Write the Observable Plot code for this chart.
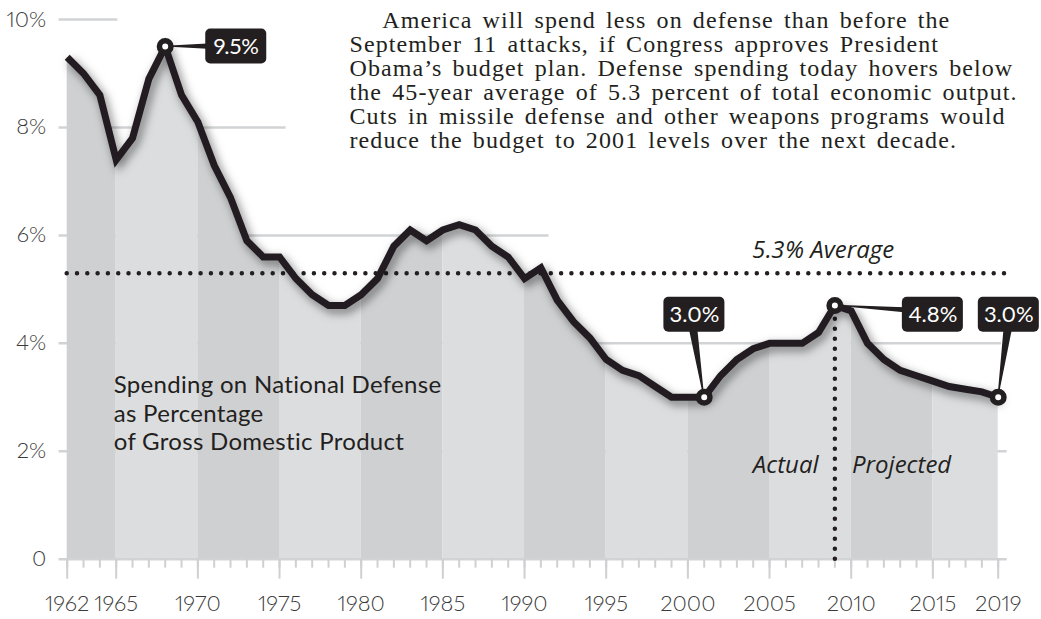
<!DOCTYPE html>
<html><head><meta charset="utf-8">
<script src="https://cdn.jsdelivr.net/npm/d3@7"></script>
<script src="https://cdn.jsdelivr.net/npm/@observablehq/plot@0.6"></script>
<style>
body{margin:0;background:#fff;}
#chart{width:1041px;height:619px;overflow:hidden;}
svg{overflow:visible;}
svg text{font-variant-numeric: proportional-nums;}
</style></head><body><div id="chart"></div>
<script>
// ---- data ----
const years = [1962,1963,1964,1965,1966,1967,1968,1969,1970,1971,1972,1973,1974,1975,1976,1977,1978,1979,
  1980,1981,1982,1983,1984,1985,1986,1987,1988,1989,1990,1991,1992,1993,1994,1995,1996,1997,1998,1999,
  2000,2001,2002,2003,2004,2005,2006,2007,2008,2009,2010,2011,2012,2013,2014,2015,2016,2017,2018,2019];
const values = [9.3,9.0,8.6,7.4,7.8,8.9,9.5,8.6,8.1,7.3,6.7,5.9,5.6,5.6,5.2,4.9,4.7,4.7,
  4.9,5.2,5.8,6.1,5.9,6.1,6.2,6.1,5.8,5.6,5.2,5.4,4.8,4.4,4.1,3.7,3.5,3.4,3.2,3.0,
  3.0,3.0,3.4,3.7,3.9,4.0,4.0,4.0,4.2,4.7,4.6,4.0,3.7,3.5,3.4,3.3,3.2,3.15,3.1,3.0];
const average = 5.3;
const averageLabel = "5.3% Average";
const splitYear = 2009;

const bandStarts = [1962,1965,1970,1975,1980,1985,1990,1995,2000,2005,2010,2015];
const bandEnds   = [1965,1970,1975,1980,1985,1990,1995,2000,2005,2010,2015,2019];

const xTickValues = [1962,1965,1970,1975,1980,1985,1990,1995,2000,2005,2010,2015,2019];
const yTickValues = [0,2,4,6,8,10];
const yTickLabels = ["0","2%","4%","6%","8%","10%"];

const gridValues = [0,2,4,6,8,10];
const gridStart = 1961.5;
const gridEnds = [2019.55,2019.55,2019.2,1991.5,1975.4,1965.1];

const calloutYears  = [1968,2001,2009,2019];
const calloutValues = [9.5,3.0,4.7,3.0];
const calloutLabels = ["9.5%","3.0%","4.8%","3.0%"];
const calloutBoxX   = [1972.35,2000.4,2015.0,2019.65];
const calloutBoxY   = [9.5,4.53,4.53,4.53];
const calloutSide   = ["left","bottom","left","bottom"];

const titleLines = ["Spending on National Defense","as Percentage","of Gross Domestic Product"];
const titlePos = {x: 1964.85, y: 3.45};
const phaseLabels = ["Actual","Projected"];
const phasePos = [{x: 2008.0, y: 1.74}, {x: 2010.05, y: 1.74}];
const averageLabelPos = {x: 2008.3, y: 5.72};

const paragraph = [
  "America will spend less on defense than before the",
  "September 11 attacks, if Congress approves President",
  "Obama\u2019s budget plan. Defense spending today hovers below",
  "the 45-year average of 5.3 percent of total economic output.",
  "Cuts in missile defense and other weapons programs would",
  "reduce the budget to 2001 levels over the next decade."
];

// ---- derived tables ----
const series = years.map((year, i) => ({year, value: values[i]}));
const bands = bandStarts.map((s, i) => ({
  i, rows: series.filter(d => d.year >= s && d.year <= bandEnds[i])
}));
const grid = gridValues.map((v, i) => ({v, end: gridEnds[i]}));
const callouts = calloutYears.map((year, i) => ({
  year, value: calloutValues[i], label: calloutLabels[i],
  bx: calloutBoxX[i], by: calloutBoxY[i], side: calloutSide[i]
}));

const ink = "#231f20";
const bandColors = ["#cfd0d2", "#dcdddf"];
const pxX = 16.33, pxY = 53.97; // px per unit (for sizing boxes in data units)
const boxW = 61 / pxX, boxH = 35 / pxY;
const sansItalic = "'Open Sans', sans-serif";

// wedge-shaped connectors from each point to its label box
const wedges = callouts.flatMap((d, k) => {
  if (d.side === "left") {
    const bxL = d.bx - boxW / 2 + 0.1;
    const yb = d.by + (d.value - d.by) * 0.5;
    const hw = 2.2 / pxY;
    return [
      {id: k, x: d.year, y: d.value},
      {id: k, x: bxL, y: yb + hw},
      {id: k, x: bxL, y: yb - hw}
    ];
  } else {
    const xb = d.bx - 0.05;
    const yb = d.by - boxH / 2 + 0.05;
    const hw = 3.8 / pxX;
    return [
      {id: k, x: d.year, y: d.value},
      {id: k, x: xb - hw, y: yb},
      {id: k, x: xb + hw, y: yb}
    ];
  }
});

const chart = Plot.plot({
  width: 1041, height: 619,
  marginLeft: 66.7, marginRight: 43.3, marginTop: 19, marginBottom: 60.3,
  x: {domain: [1962, 2019]},
  y: {domain: [0, 10]},
  style: {fontFamily: "Lato, sans-serif", fontSize: "21px", color: "#333", background: "white", overflow: "visible"},
  marks: [
    Plot.ruleY(grid.filter(d => d.v !== 0), {y: "v", x1: gridStart, x2: "end", stroke: "#d2d3d5", strokeWidth: 2.5}),
    ...bands.map(b => Plot.areaY(b.rows, {x: "year", y: "value", fill: bandColors[b.i % 2]})),
    Plot.ruleY(grid.filter(d => d.v === 0), {y: "v", x1: gridStart, x2: "end", stroke: "#d2d3d5", strokeWidth: 2.5}),
    Plot.axisX({ticks: years, tickSize: 9, tickFormat: () => "", stroke: "#cfd0d2", strokeWidth: 2}),
    Plot.axisX({ticks: xTickValues, tickSize: 20, tickPadding: 16, tickFormat: d => String(d), stroke: "#cfd0d2", strokeWidth: 2, fill: "#3a3a3a", fontWeight: 300, fontSize: 22}),
    Plot.axisY({ticks: yTickValues, tickSize: 0, tickPadding: 21, tickFormat: d => yTickLabels[yTickValues.indexOf(d)], fill: "#3a3a3a", fontWeight: 300, fontSize: 22}),
    Plot.ruleX([splitYear], {x: d => d, y1: 0, y2: calloutValues[2], stroke: ink, strokeWidth: 4.5, strokeDasharray: "0 10", strokeLinecap: "round"}),
    Plot.ruleY([average], {y: d => d, x1: 1962, x2: 2019.9, stroke: ink, strokeWidth: 4.5, strokeDasharray: "0 10.3", strokeLinecap: "round"}),
    Plot.line(series, {x: "year", y: "value", stroke: ink, strokeWidth: 7, strokeLinejoin: "miter", strokeMiterlimit: 3, strokeLinecap: "butt"}),
    Plot.line(wedges, {x: "x", y: "y", z: "id", fill: ink, stroke: ink, strokeWidth: 1.5, strokeLinejoin: "round"}),
    Plot.dot(callouts, {x: "year", y: "value", r: 5.75, fill: "white", stroke: ink, strokeWidth: 5.5}),
    Plot.rect(callouts, {x1: d => d.bx - boxW / 2, x2: d => d.bx + boxW / 2, y1: d => d.by - boxH / 2, y2: d => d.by + boxH / 2, rx: 5, fill: ink}),
    Plot.text(callouts, {x: "bx", y: "by", text: "label", fill: "white", fontSize: 22, fontFamily: "Lato, sans-serif"}),
    Plot.text([averageLabel], {x: averageLabelPos.x, y: averageLabelPos.y, text: d => d, fill: ink, fontSize: 24, fontStyle: "italic", fontFamily: sansItalic}),
    Plot.text([phaseLabels[0]], {x: phasePos[0].x, y: phasePos[0].y, text: d => d, textAnchor: "end", fill: ink, fontSize: 24, fontStyle: "italic", fontFamily: sansItalic}),
    Plot.text([phaseLabels[1]], {x: phasePos[1].x, y: phasePos[1].y, text: d => d, textAnchor: "start", fill: ink, fontSize: 24, fontStyle: "italic", fontFamily: sansItalic}),
    Plot.text([titleLines.join("\n")], {x: titlePos.x, y: titlePos.y, text: d => d, textAnchor: "start", lineAnchor: "top", lineHeight: 28.5 / 24, fill: ink, fontSize: 24, fontFamily: "Lato, sans-serif"}),
    Plot.text([paragraph[0]], {frameAnchor: "top-left", dx: 315, dy: -8.8, text: d => d, fill: ink, fontSize: 24, fontFamily: "'Liberation Serif', serif"}),
    Plot.text([paragraph.slice(1).join("\n")], {frameAnchor: "top-left", dx: 282.3, dy: 15.2, lineHeight: 1, text: d => d, fill: ink, fontSize: 24, fontFamily: "'Liberation Serif', serif"})
  ]
});

document.getElementById("chart").appendChild(chart);
const svg = d3.select(chart.tagName.toLowerCase() === "svg" ? chart : chart.querySelector("svg"));
const defs = svg.insert("defs", ":first-child");
const f = defs.append("filter").attr("id", "lineShadow").attr("x", "-5%").attr("y", "-10%").attr("width", "110%").attr("height", "125%");
f.append("feDropShadow").attr("dx", 3).attr("dy", 4).attr("stdDeviation", 5).attr("flood-color", "#000").attr("flood-opacity", 0.5);
// shadow only on the main data line (first line mark)
svg.select('g[aria-label="line"]').attr("filter", "url(#lineShadow)");
// paragraph spacing (serif text)
svg.selectAll('g[font-family*="Liberation Serif"]').style("letter-spacing", "1.1px").style("word-spacing", "3px");
svg.selectAll('g[font-family^="Lato"] text').filter(function(){ return this.textContent.startsWith("Spending") || this.closest('g').getAttribute('font-size') === '24'; }).style("letter-spacing", "0.3px");
</script>
</body></html>
